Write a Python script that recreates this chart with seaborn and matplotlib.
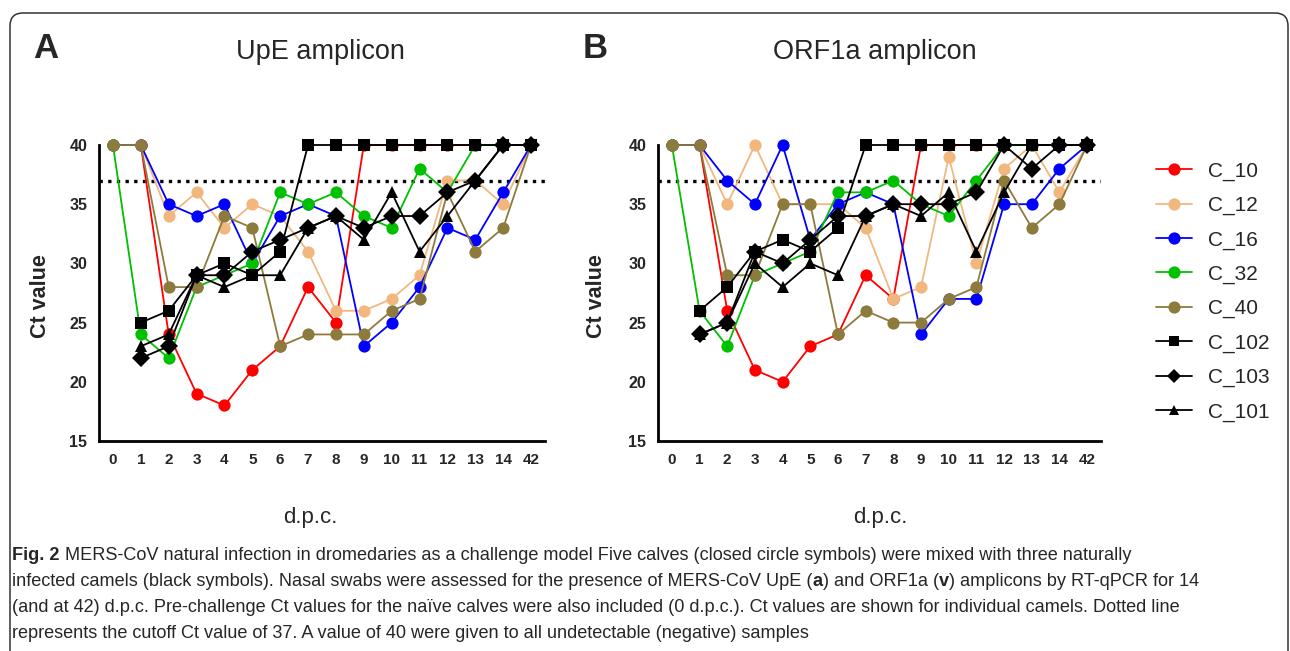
import numpy as np
import pandas as pd
import seaborn as sns
import matplotlib.pyplot as plt
from matplotlib.lines import Line2D
from matplotlib.patches import FancyBboxPatch
from matplotlib import font_manager

# days post challenge (42 is an extra late time point)
days = ["0", "1", "2", "3", "4", "5", "6", "7", "8", "9", "10", "11", "12", "13", "14", "42"]
calves = ["C_10", "C_12", "C_16", "C_32", "C_40", "C_102", "C_103", "C_101"]

# UpE amplicon Ct values
upe_c10 = [40, 40, 24, 19, 18, 21, 23, 28, 25, 40, 40, 40, 40, 40, 40, 40]
upe_c12 = [40, 40, 34, 36, 33, 35, 34, 31, 26, 26, 27, 29, 37, 37, 35, 40]
upe_c16 = [40, 40, 35, 34, 35, 30, 34, 35, 34, 23, 25, 28, 33, 32, 36, 40]
upe_c32 = [40, 24, 22, 28, 29, 30, 36, 35, 36, 34, 33, 38, 36, 40, 40, 40]
upe_c40 = [40, 40, 28, 28, 34, 33, 23, 24, 24, 24, 26, 27, 36, 31, 33, 40]
upe_c102 = [np.nan, 25, 26, 29, 30, 29, 31, 40, 40, 40, 40, 40, 40, 40, 40, 40]
upe_c103 = [np.nan, 22, 23, 29, 29, 31, 32, 33, 34, 33, 34, 34, 36, 37, 40, 40]
upe_c101 = [np.nan, 23, 24, 29, 28, 29, 29, 33, 34, 32, 36, 31, 34, 37, 40, 40]

# ORF1a amplicon Ct values
orf_c10 = [40, 40, 26, 21, 20, 23, 24, 29, 27, 40, 40, 40, 40, 40, 40, 40]
orf_c12 = [40, 40, 35, 40, 35, 35, 35, 33, 27, 28, 39, 30, 38, 40, 36, 40]
orf_c16 = [40, 40, 37, 35, 40, 32, 35, 36, 35, 24, 27, 27, 35, 35, 38, 40]
orf_c32 = [40, 26, 23, 29, 30, 31, 36, 36, 37, 35, 34, 37, 40, 40, 40, 40]
orf_c40 = [40, 40, 29, 29, 35, 35, 24, 26, 25, 25, 27, 28, 37, 33, 35, 40]
orf_c102 = [np.nan, 26, 28, 31, 32, 31, 33, 40, 40, 40, 40, 40, 40, 40, 40, 40]
orf_c103 = [np.nan, 24, 25, 31, 30, 32, 34, 34, 35, 35, 35, 36, 40, 38, 40, 40]
orf_c101 = [np.nan, 24, 25, 30, 28, 30, 29, 34, 35, 34, 36, 31, 36, 40, 40, 40]

cutoff = 37

upe = dict(zip(calves, [upe_c10, upe_c12, upe_c16, upe_c32, upe_c40, upe_c102, upe_c103, upe_c101]))
orf = dict(zip(calves, [orf_c10, orf_c12, orf_c16, orf_c32, orf_c40, orf_c102, orf_c103, orf_c101]))

colors = {"C_10": "#ff0000", "C_12": "#f2b77f", "C_16": "#0000ff", "C_32": "#00c000",
          "C_40": "#8c7b3c", "C_102": "black", "C_103": "black", "C_101": "black"}
markers = {"C_10": "o", "C_12": "o", "C_16": "o", "C_32": "o", "C_40": "o",
           "C_102": "s", "C_103": "D", "C_101": "^"}


def to_long(d):
    rows = []
    for calf in calves:
        for i, v in enumerate(d[calf]):
            if not np.isnan(v):
                rows.append((calf, i, v))
    return pd.DataFrame(rows, columns=["calf", "pos", "ct"])


W, H = 1290, 651
sns.set_style("white")
plt.rcParams['font.family'] = ['Liberation Sans', 'DejaVu Sans']
fig = plt.figure(figsize=(W / 100, H / 100), dpi=100)

# rounded frame around the whole figure
frame = FancyBboxPatch((0.10, -0.3), 12.78, (H - 13) / 100 + 0.3,
                       boxstyle="round,pad=0,rounding_size=0.13",
                       transform=fig.dpi_scale_trans, fc="none", ec="#333333", lw=1.1)
fig.add_artist(frame)


def panel(left, width, d, letter, letter_x, title, title_x, ylab_x, xlab_x):
    ax = fig.add_axes([left / W, 1 - 441 / H, width / W, 296 / H])
    df = to_long(d)
    ax.axhline(cutoff, color="black", lw=2.4, ls=(0, (1, 1.6)), zorder=1)
    sns.lineplot(data=df, x="pos", y="ct", hue="calf", style="calf",
                 hue_order=calves, style_order=calves, palette=colors,
                 markers=markers, dashes=False, estimator=None, sort=False,
                 legend=False, lw=1.3, markersize=8.8, markeredgewidth=0,
                 clip_on=False, ax=ax)
    ax.set_xlim(-0.5, len(days) - 0.5)
    ax.set_ylim(15, 40)
    ax.set_xticks(range(len(days)))
    ax.set_xticklabels(days, fontweight="bold", fontsize=11)
    ax.set_yticks([15, 20, 25, 30, 35, 40])
    ax.set_yticklabels(["15", "20", "25", "30", "35", "40"], fontweight="bold", fontsize=11.5)
    for s in ["top", "right"]:
        ax.spines[s].set_visible(False)
    ax.spines["left"].set_bounds(15, 40)
    for s in ["left", "bottom"]:
        ax.spines[s].set_linewidth(2)
        ax.spines[s].set_color("black")
    ax.tick_params(axis="both", direction="out", length=5.5, width=2, color="black", pad=3)
    ax.set_xlabel("")
    ax.set_ylabel("")
    fig.text(ylab_x / W, 1 - 296 / H, "Ct value", rotation=90, fontweight="bold",
             fontsize=15.5, ha="center", va="center")
    fig.text(xlab_x / W, 1 - 523 / H, "d.p.c.", fontsize=16, ha="center", va="baseline")
    fig.text(letter_x / W, 1 - 58 / H, letter, fontsize=25, fontweight="bold", ha="left", va="baseline")
    fig.text(title_x / W, 1 - 59 / H, title, fontsize=19.5, ha="center", va="baseline")
    return ax


axA = panel(99, 446, upe, "A", 33, "UpE amplicon", 320, 40, 310)
axB = panel(658, 443, orf, "B", 583, "ORF1a amplicon", 875, 597, 880)

handles = [Line2D([0], [0], color=colors[c], marker=markers[c], lw=1.3,
                  markersize=8.8 if markers[c] == "o" else 7.5, markeredgewidth=0)
           for c in calves]
fig.legend(handles, calves, loc="upper left", bbox_to_anchor=(1148 / W, 1 - 153 / H),
           frameon=False, fontsize=15, handlelength=1.7, labelspacing=0.73,
           handletextpad=0.8, borderaxespad=0)

# caption, drawn segment by segment to mix bold and regular
names = {f.name for f in font_manager.fontManager.ttflist}
cap_family = "Liberation Sans Narrow" if "Liberation Sans Narrow" in names else "Liberation Sans"
renderer = fig.canvas.get_renderer()


def seg_width(txt, bold, size):
    a = fig.text(0, 0, "|" + txt + "|", fontsize=size, family=cap_family,
                 fontweight="bold" if bold else "normal")
    b = fig.text(0, 0, "||", fontsize=size, family=cap_family,
                 fontweight="bold" if bold else "normal")
    w = a.get_window_extent(renderer).width - b.get_window_extent(renderer).width
    a.remove()
    b.remove()
    return w


caption = [
    [("Fig. 2", True), (" MERS-CoV natural infection in dromedaries as a challenge model Five calves (closed circle symbols) were mixed with three naturally", False)],
    [("infected camels (black symbols). Nasal swabs were assessed for the presence of MERS-CoV UpE (", False), ("a", True),
     (") and ORF1a (", False), ("v", True), (") amplicons by RT-qPCR for 14", False)],
    [("(and at 42) d.p.c. Pre-challenge Ct values for the na\u00efve calves were also included (0 d.p.c.). Ct values are shown for individual camels. Dotted line", False)],
    [("represents the cutoff Ct value of 37. A value of 40 were given to all undetectable (negative) samples", False)],
]

# pick the size that best matches the line lengths of the original caption
targets = [1091, 1215, 1263, 675]
widths = [sum(seg_width(t, b, 12) for t, b in parts) for parts in caption]
scale = sum(w * t for w, t in zip(widths, targets)) / sum(w * w for w in widths)
cap_size = 12 * scale
line_y = [556, 582, 607, 633]
for parts, y in zip(caption, line_y):
    x = 12
    for txt, bold in parts:
        fig.text(x / W, 1 - y / H, txt, fontsize=cap_size, family=cap_family,
                 fontweight="bold" if bold else "normal", ha="left", va="center")
        x += seg_width(txt, bold, cap_size)

fig.savefig("out.png", dpi=100)
